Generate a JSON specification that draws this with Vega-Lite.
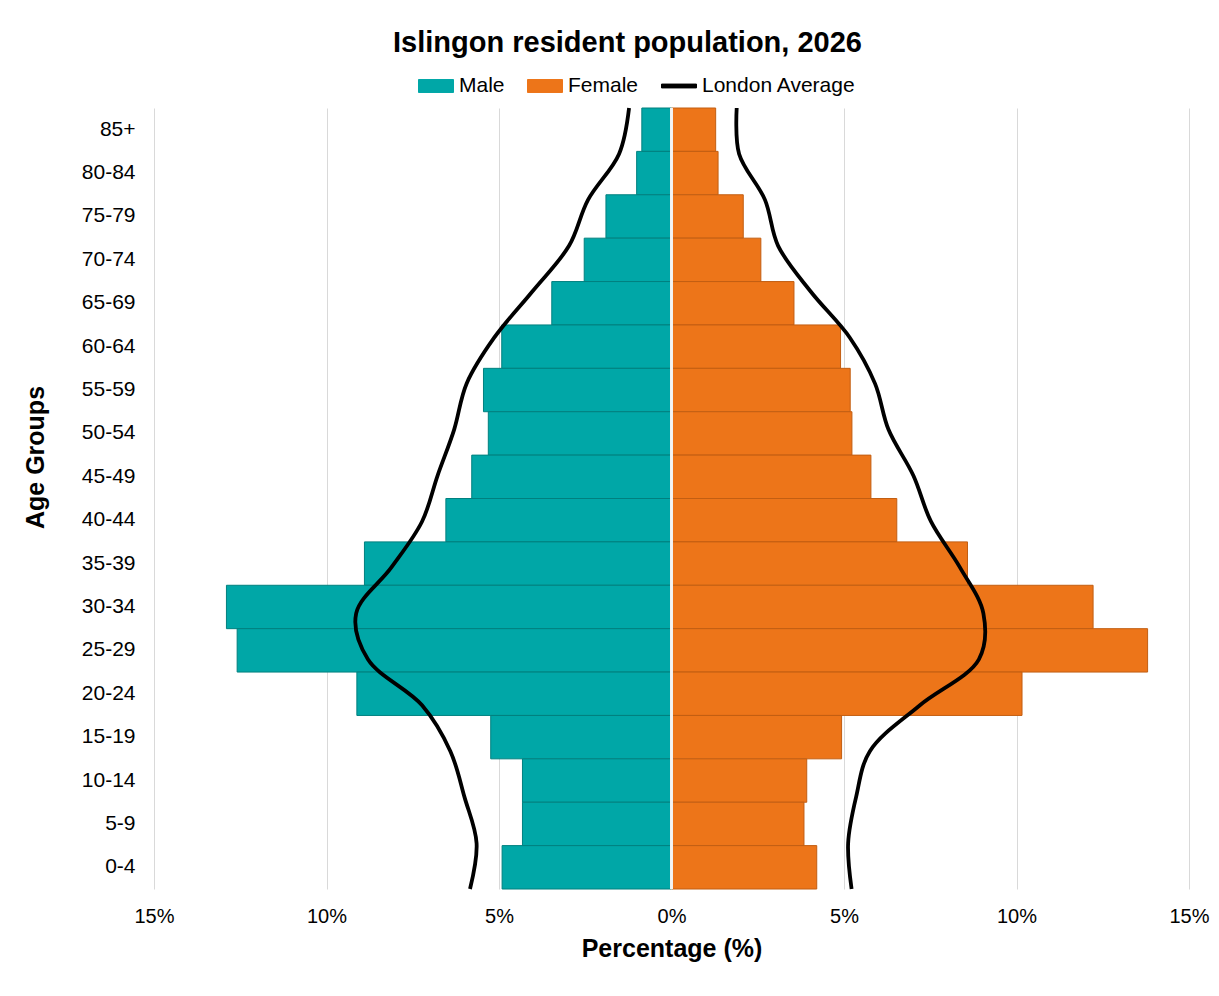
{
  "$schema": "https://vega.github.io/schema/vega-lite/v6.json",
  "width": 1035,
  "height": 781,
  "autosize": {"type": "none"},
  "padding": {"left": 154, "top": 108, "right": 30, "bottom": 107},
  "background": "white",
  "title": {
    "text": "Islingon resident population, 2026",
    "font": "Liberation Sans",
    "fontSize": 29,
    "fontWeight": "bold",
    "color": "#000000",
    "anchor": "middle",
    "dx": -44,
    "offset": 10
  },
  "config": {
    "view": {"stroke": null},
    "font": "Liberation Sans"
  },
  "datasets": {
    "pop": [
      {"age": "85+", "sex": "Male", "pct": -0.86}, {"age": "85+", "sex": "Female", "pct": 1.28},
      {"age": "80-84", "sex": "Male", "pct": -1.01}, {"age": "80-84", "sex": "Female", "pct": 1.35},
      {"age": "75-79", "sex": "Male", "pct": -1.90}, {"age": "75-79", "sex": "Female", "pct": 2.08},
      {"age": "70-74", "sex": "Male", "pct": -2.53}, {"age": "70-74", "sex": "Female", "pct": 2.59},
      {"age": "65-69", "sex": "Male", "pct": -3.47}, {"age": "65-69", "sex": "Female", "pct": 3.55},
      {"age": "60-64", "sex": "Male", "pct": -4.92}, {"age": "60-64", "sex": "Female", "pct": 4.90},
      {"age": "55-59", "sex": "Male", "pct": -5.45}, {"age": "55-59", "sex": "Female", "pct": 5.18},
      {"age": "50-54", "sex": "Male", "pct": -5.31}, {"age": "50-54", "sex": "Female", "pct": 5.23},
      {"age": "45-49", "sex": "Male", "pct": -5.79}, {"age": "45-49", "sex": "Female", "pct": 5.78},
      {"age": "40-44", "sex": "Male", "pct": -6.54}, {"age": "40-44", "sex": "Female", "pct": 6.53},
      {"age": "35-39", "sex": "Male", "pct": -8.90}, {"age": "35-39", "sex": "Female", "pct": 8.58},
      {"age": "30-34", "sex": "Male", "pct": -12.90}, {"age": "30-34", "sex": "Female", "pct": 12.22},
      {"age": "25-29", "sex": "Male", "pct": -12.59}, {"age": "25-29", "sex": "Female", "pct": 13.80},
      {"age": "20-24", "sex": "Male", "pct": -9.12}, {"age": "20-24", "sex": "Female", "pct": 10.16},
      {"age": "15-19", "sex": "Male", "pct": -5.24}, {"age": "15-19", "sex": "Female", "pct": 4.93},
      {"age": "10-14", "sex": "Male", "pct": -4.32}, {"age": "10-14", "sex": "Female", "pct": 3.92},
      {"age": "5-9", "sex": "Male", "pct": -4.32}, {"age": "5-9", "sex": "Female", "pct": 3.84},
      {"age": "0-4", "sex": "Male", "pct": -4.91}, {"age": "0-4", "sex": "Female", "pct": 4.21}
    ],
    "london": [
      {"age": "85+", "side": "Male", "pct": -1.23},
      {"age": "80-84", "side": "Male", "pct": -1.52},
      {"age": "75-79", "side": "Male", "pct": -2.42},
      {"age": "70-74", "side": "Male", "pct": -2.97},
      {"age": "65-69", "side": "Male", "pct": -4.04},
      {"age": "60-64", "side": "Male", "pct": -5.14},
      {"age": "55-59", "side": "Male", "pct": -5.94},
      {"age": "50-54", "side": "Male", "pct": -6.30},
      {"age": "45-49", "side": "Male", "pct": -6.78},
      {"age": "40-44", "side": "Male", "pct": -7.23},
      {"age": "35-39", "side": "Male", "pct": -8.12},
      {"age": "30-34", "side": "Male", "pct": -9.14},
      {"age": "25-29", "side": "Male", "pct": -8.80},
      {"age": "20-24", "side": "Male", "pct": -7.23},
      {"age": "15-19", "side": "Male", "pct": -6.41},
      {"age": "10-14", "side": "Male", "pct": -6.00},
      {"age": "5-9", "side": "Male", "pct": -5.65},
      {"age": "0-4", "side": "Male", "pct": -5.84},
      {"age": "85+", "side": "Female", "pct": 1.89},
      {"age": "80-84", "side": "Female", "pct": 1.96},
      {"age": "75-79", "side": "Female", "pct": 2.71},
      {"age": "70-74", "side": "Female", "pct": 3.09},
      {"age": "65-69", "side": "Female", "pct": 4.04},
      {"age": "60-64", "side": "Female", "pct": 5.17},
      {"age": "55-59", "side": "Female", "pct": 5.90},
      {"age": "50-54", "side": "Female", "pct": 6.29},
      {"age": "45-49", "side": "Female", "pct": 7.01},
      {"age": "40-44", "side": "Female", "pct": 7.52},
      {"age": "35-39", "side": "Female", "pct": 8.36},
      {"age": "30-34", "side": "Female", "pct": 9.04},
      {"age": "25-29", "side": "Female", "pct": 8.91},
      {"age": "20-24", "side": "Female", "pct": 7.20},
      {"age": "15-19", "side": "Female", "pct": 5.75},
      {"age": "10-14", "side": "Female", "pct": 5.35},
      {"age": "5-9", "side": "Female", "pct": 5.12},
      {"age": "0-4", "side": "Female", "pct": 5.22}
    ]
  },
  "layer": [
    {
      "data": {"name": "pop"},
      "mark": {"type": "bar", "strokeWidth": 1},
      "encoding": {
        "y": {
          "field": "age",
          "type": "nominal",
          "sort": ["85+", "80-84", "75-79", "70-74", "65-69", "60-64", "55-59", "50-54", "45-49", "40-44", "35-39", "30-34", "25-29", "20-24", "15-19", "10-14", "5-9", "0-4"],
          "scale": {"paddingInner": 0, "paddingOuter": 0},
          "axis": {
            "title": "Age Groups",
            "titleFontSize": 25,
            "titleFontWeight": "bold",
            "titleColor": "#000000",
            "titleFont": "Liberation Sans",
            "titleX": -119,
            "titleY": 349,
            "titleBaseline": "middle",
            "labelFontSize": 21,
            "labelColor": "#000000",
            "labelFont": "Liberation Sans",
            "ticks": false,
            "domain": false,
            "labelPadding": 19
          }
        },
        "x": {
          "field": "pct",
          "type": "quantitative",
          "stack": null,
          "scale": {"domain": [-15, 15], "nice": false},
          "axis": {
            "values": [-15, -10, -5, 0, 5, 10, 15],
            "labelExpr": "abs(datum.value) + '%'",
            "title": "Percentage (%)",
            "titleFontSize": 25,
            "titleFontWeight": "bold",
            "titleColor": "#000000",
            "titleFont": "Liberation Sans",
            "titlePadding": 10,
            "labelFontSize": 20,
            "labelColor": "#000000",
            "labelFont": "Liberation Sans",
            "labelFlush": false,
            "ticks": false,
            "domain": false,
            "grid": true,
            "gridColor": "#d9d9d9",
            "gridWidth": 1,
            "labelPadding": 17
          }
        },
        "color": {
          "field": "sex",
          "type": "nominal",
          "scale": {"domain": ["Male", "Female", "London Average"], "range": ["#00A7A7", "#ED7519", "#000000"]},
          "legend": {
            "orient": "none",
            "legendX": 264,
            "legendY": -40,
            "direction": "horizontal",
            "title": null,
            "labelFontSize": 21,
            "labelColor": "#000000",
            "labelFont": "Liberation Sans",
            "symbolSize": 1225,
            "labelOffset": 5,
            "columnPadding": 20,
            "encode": {
              "symbols": {
                "update": {
                  "shape": {"signal": "datum.value === 'London Average' ? 'M-1,-0.11H1V0.11H-1Z' : 'M-1,-0.37H1V0.37H-1Z'"},
                  "fill": {"signal": "scale('color', datum.value)"},
                  "stroke": {"signal": "datum.value === 'Male' ? '#00807f' : (datum.value === 'Female' ? '#c25e12' : '#000000')"},
                  "strokeWidth": {"value": 1},
                  "opacity": {"value": 1}
                }
              }
            }
          }
        },
        "stroke": {
          "field": "sex",
          "type": "nominal",
          "scale": {"domain": ["Male", "Female"], "range": ["#00807f", "#c25e12"]},
          "legend": null
        }
      }
    },
    {
      "data": {"name": "pop"},
      "mark": {"type": "rule", "color": "#f4f4f4", "strokeWidth": 1.5},
      "encoding": {"x": {"datum": 0}}
    },
    {
      "data": {"name": "london"},
      "mark": {"type": "line", "interpolate": "catmull-rom", "strokeWidth": 3.8},
      "encoding": {
        "y": {
          "field": "age",
          "type": "ordinal",
          "sort": ["85+", "80-84", "75-79", "70-74", "65-69", "60-64", "55-59", "50-54", "45-49", "40-44", "35-39", "30-34", "25-29", "20-24", "15-19", "10-14", "5-9", "0-4"],
          "scale": {"type": "point", "padding": 0},
          "axis": null
        },
        "x": {"field": "pct", "type": "quantitative"},
        "detail": {"field": "side", "type": "nominal"},
        "color": {"datum": "London Average"},
        "order": {"value": null}
      }
    }
  ],
  "resolve": {"scale": {"y": "independent"}}
}
